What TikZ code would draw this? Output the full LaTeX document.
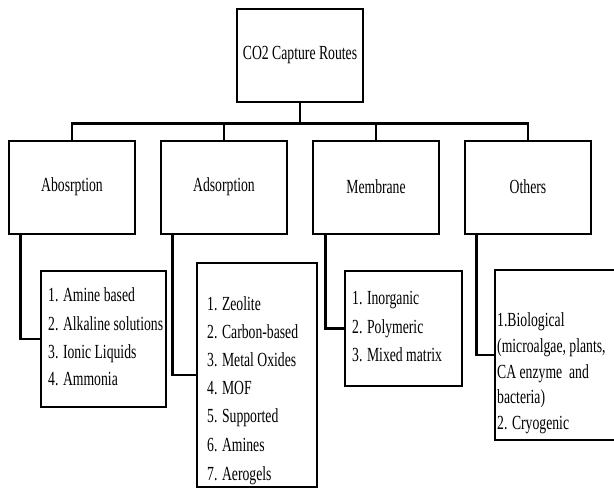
\documentclass[tikz,border=0pt]{standalone}
\usepackage{fontspec}
\setmainfont{Liberation Serif}[FakeStretch=0.685]
\begin{document}
\begin{tikzpicture}[x=1pt,y=-1pt,
  box/.style={draw, line width=2.8pt, rectangle, inner sep=0pt},
  lbl/.style={font=\fontsize{20}{28}\selectfont, inner sep=0pt},
  item/.style={font=\fontsize{20}{28}\selectfont, inner sep=0pt, anchor=base west},
  conn/.style={line width=2.6pt}]
\useasboundingbox (0,0) rectangle (614,489);
% boxes
\node[box, minimum width=126pt, minimum height=93pt] (top) at (300,55.5) {};
\node[lbl] (toplbl) at (300,55) {CO2 Capture Routes};
\node[box, minimum width=126pt, minimum height=93pt] (abs) at (72,187.5) {};
\node[box, minimum width=126pt, minimum height=93pt] (ads) at (224,187.5) {};
\node[box, minimum width=126pt, minimum height=93pt] (mem) at (376,187.5) {};
\node[box, minimum width=126pt, minimum height=93pt] (oth) at (528,187.5) {};
\node[lbl] (abslbl) at (72,187) {Abosrption};
\node[lbl] (adslbl) at (224,187) {Adsorption};
\node[lbl] (memlbl) at (376,187) {Membrane};
\node[lbl] (othlbl) at (528,187) {Others};
% list boxes
\node[box, minimum width=125pt, minimum height=136pt] (absl) at (103.5,339) {};
\node[box, minimum width=120pt, minimum height=224pt] (adsl) at (257,375) {};
\node[box, minimum width=117pt, minimum height=115pt] (meml) at (403.5,328.5) {};
\node[box, minimum width=150pt, minimum height=170pt] (othl) at (570,355) {};
% list texts
\node[item] (a1) at (48,302) {1. Amine based};
\node[item] (a2) at (48,331) {2. Alkaline solutions};
\node[item] (a3) at (48,359) {3. Ionic Liquids};
\node[item] (a4) at (48,386) {4. Ammonia};
\node[item] (d1) at (207,311) {1. Zeolite};
\node[item] (d2) at (207,339) {2. Carbon-based};
\node[item] (d3) at (207,367) {3. Metal Oxides};
\node[item] (d4) at (207,395) {4. MOF};
\node[item] (d5) at (207,423) {5. Supported};
\node[item] (d6) at (207,451) {6. Amines};
\node[item] (d7) at (207,480) {7. Aerogels};
\node[item] (m1) at (352,305) {1. Inorganic};
\node[item] (m2) at (352,334) {2. Polymeric};
\node[item] (m3) at (352,362) {3. Mixed matrix};
\node[item] (o1) at (497,327) {1.Biological};
\node[item] (o2) at (497,353) {(microalgae, plants,};
\node[item] (o3) at (497,379) {CA enzyme\ \ and};
\node[item] (o4) at (497,404) {bacteria)};
\node[item] (o5) at (497,430) {2. Cryogenic};
% connectors
\draw[conn] (top.south) -- ++(0,20) -| (abs.north);
\draw[conn] (top.south) -- ++(0,20) -| (ads.north);
\draw[conn] (top.south) -- ++(0,20) -| (mem.north);
\draw[conn] (top.south) -- ++(0,20) -| (oth.north);
\draw[conn] ([xshift=13pt]abs.south west) |- (absl.west);
\draw[conn] ([xshift=13pt]ads.south west) |- (adsl.west);
\draw[conn] ([xshift=14pt]mem.south west) |- (meml.west);
\draw[conn] ([xshift=13pt]oth.south west) |- (othl.west);
\end{tikzpicture}
\end{document}
